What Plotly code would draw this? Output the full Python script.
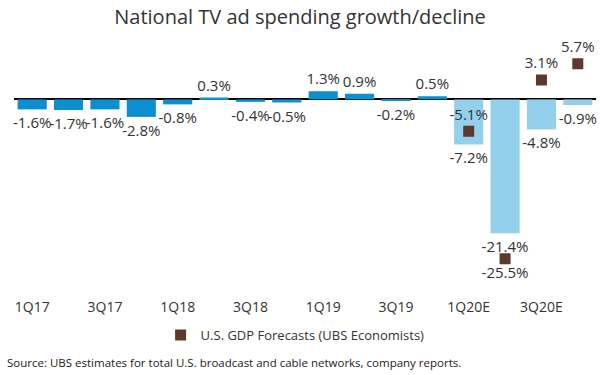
import plotly.graph_objects as go

quarters = ["1Q17", "2Q17", "3Q17", "4Q17", "1Q18", "2Q18", "3Q18", "4Q18",
            "1Q19", "2Q19", "3Q19", "4Q19", "1Q20E", "2Q20E", "3Q20E", "4Q20E"]
tv_growth = [-1.6, -1.7, -1.6, -2.8, -0.8, 0.3, -0.4, -0.5,
             1.3, 0.9, -0.2, 0.5, -7.2, -21.4, -4.8, -0.9]
is_estimate = [False] * 12 + [True] * 4
gdp_quarters = ["1Q20E", "2Q20E", "3Q20E", "4Q20E"]
gdp_forecast = [-5.1, -25.5, 3.1, 5.7]
gdp_label_pos = ["top center", "bottom center", "top center", "top center"]

DARK = "#0a8fd1"
LIGHT = "#93d0ec"
BROWN = "#5b3a2a"
TXT = "#333333"
FONT = "Open Sans"

fig = go.Figure()
fig.add_trace(go.Bar(
    x=quarters, y=tv_growth,
    marker=dict(color=[LIGHT if e else DARK for e in is_estimate], line=dict(width=0)),
    text=[f"{v:.1f}%" for v in tv_growth],
    textposition="outside", constraintext="none", cliponaxis=False,
    textfont=dict(family=FONT, size=15, color=TXT),
    showlegend=False, hoverinfo="skip",
))
fig.add_trace(go.Scatter(
    x=gdp_quarters, y=gdp_forecast, mode="markers+text",
    marker=dict(symbol="square", size=11, color=BROWN),
    text=[f"{v:.1f}%" for v in gdp_forecast], textposition=gdp_label_pos,
    textfont=dict(family=FONT, size=15, color=TXT),
    name="U.S. GDP Forecasts (UBS Economists)", cliponaxis=False,
))

fig.update_layout(
    width=600, height=375,
    margin=dict(l=14, r=4, t=40, b=85, autoexpand=False),
    paper_bgcolor="white", plot_bgcolor="white",
    font=dict(family=FONT, color=TXT),
    bargap=0.2,
    title=dict(text="National TV ad spending growth/decline", x=0.5, xanchor="center",
               y=1 - 17 / 375, yanchor="middle", yref="container",
               font=dict(family=FONT, size=20, color="#333333")),
    xaxis=dict(type="category", categoryorder="array", categoryarray=quarters,
               range=[-0.5, 15.5], automargin=False,
               tickvals=quarters[::2], ticktext=quarters[::2], ticklabelstandoff=7,
               showgrid=False, showline=False, zeroline=False, ticks="",
               tickfont=dict(family=FONT, size=14, color=TXT)),
    yaxis=dict(range=[-30.5, 9.5], showgrid=False, showticklabels=False, automargin=False,
               zeroline=True, zerolinecolor="black", zerolinewidth=1.5, ticks=""),
    legend=dict(orientation="h", x=0.483, xanchor="center", y=-0.18, yanchor="middle",
                font=dict(family=FONT, size=13, color=TXT),
                itemwidth=30, tracegroupgap=0, bgcolor="rgba(0,0,0,0)"),
    annotations=[dict(
        text="Source: UBS estimates for total U.S. broadcast and cable networks, company reports.",
        xref="paper", yref="paper", x=-0.0155, y=-0.288, xanchor="left", yanchor="middle",
        showarrow=False, font=dict(family=FONT, size=11.5, color="#222222"))],
)

fig.write_html("out.html", config={"displayModeBar": False},
               post_script="document.body.style.margin='0';")
